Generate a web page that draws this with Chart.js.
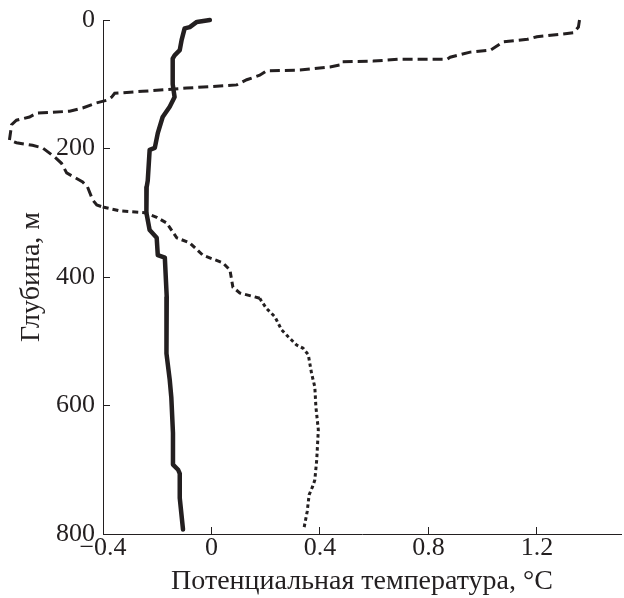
<!DOCTYPE html>
<html>
<head>
<meta charset="utf-8">
<script src="https://cdn.jsdelivr.net/npm/chart.js@4"></script>
<style>
html,body{margin:0;padding:0;background:#fff;}
#wrap{width:624px;height:598px;position:relative;}
</style>
</head>
<body>
<div id="wrap"><canvas id="c" width="624" height="598"></canvas></div>
<script>
// Solid profile: depth (m) and potential temperature (°C)
const solidDepth = [0,3,11,13,31,47,55,60,100,120,135,151,176,199,202,250,260,300,327,339,366,370,431,519,560,588,643,692,700,706,744,793];
const solidTemp  = [-0.006,-0.054,-0.08,-0.099,-0.11,-0.117,-0.136,-0.143,-0.143,-0.136,-0.154,-0.18,-0.198,-0.209,-0.228,-0.235,-0.239,-0.24,-0.228,-0.202,-0.198,-0.172,-0.165,-0.166,-0.154,-0.148,-0.142,-0.142,-0.123,-0.117,-0.117,-0.105];

// Dashed profile
const dashDepth = [0,11,20,26,30,34,47,50,58,61,61,64,65,70,73,78,79,86,93,101,106,111,114,120,125,129,137,142,145,151,156,163,187,191,195,199,213,223,238,252,260,280,288,291,297,300,307,316,339,347,366,378,389,416,425,433,438,449,462,482,493,506,511,521,550,571,602,638,685,716,726,739,765,791];
const dashTemp  = [1.357,1.353,1.334,1.20,1.165,1.076,1.028,0.954,0.88,0.869,0.695,0.596,0.481,0.474,0.437,0.326,0.204,0.178,0.13,0.093,-0.091,-0.254,-0.357,-0.368,-0.387,-0.424,-0.475,-0.523,-0.645,-0.671,-0.719,-0.737,-0.745,-0.719,-0.66,-0.623,-0.579,-0.553,-0.534,-0.475,-0.457,-0.438,-0.423,-0.401,-0.339,-0.246,-0.202,-0.165,-0.128,-0.08,-0.032,0.042,0.068,0.079,0.105,0.178,0.185,0.203,0.234,0.258,0.283,0.314,0.338,0.357,0.369,0.381,0.385,0.394,0.388,0.381,0.373,0.36,0.353,0.341];

const xTicks = [-0.4, 0, 0.4, 0.8, 1.2];
const yTicks = [0, 200, 400, 600, 800];
const xTitle = 'Потенциальная температура, °C';
const yTitle = 'Глубина, м';

const ink = '#231f20';
const toPts = (xs, ys) => xs.map((v, i) => ({x: v, y: ys[i]}));
const fmt = v => (v < 0 ? '\u2212' + Math.abs(v) : String(v));

new Chart(document.getElementById('c'), {
  type: 'scatter',
  data: {
    datasets: [
      {
        data: toPts(dashTemp, dashDepth),
        showLine: true,
        borderColor: ink,
        borderWidth: 3,
        pointRadius: 0,
        clip: false,
        borderCapStyle: 'butt',
        segment: {
          borderDash: ctx => {
            const d = ctx.p0.parsed.y;
            if (d < 290) return [10, 5];
            if (d < 430) return [6, 4];
            return [3.5, 3];
          }
        }
      },
      {
        data: toPts(solidTemp, solidDepth),
        showLine: true,
        borderColor: ink,
        borderWidth: 4.5,
        pointRadius: 0,
        clip: false,
        borderCapStyle: 'round',
        borderJoinStyle: 'round'
      }
    ]
  },
  options: {
    responsive: false,
    animation: false,
    layout: {padding: {top: 20, right: 3, bottom: 0, left: 0}},
    plugins: {legend: {display: false}, tooltip: {enabled: false}},
    scales: {
      x: {
        type: 'linear',
        min: -0.4,
        max: 1.51,
        afterBuildTicks: s => { s.ticks = xTicks.map(v => ({value: v})); },
        afterFit: s => { s.height = 64; s.paddingLeft = 0; s.paddingRight = 0; },
        grid: {display: true, drawOnChartArea: false, tickLength: -7, color: ink, lineWidth: 1},
        border: {display: true, color: ink, width: 1},
        ticks: {
          color: ink,
          padding: 6,
          maxRotation: 0,
          autoSkip: false,
          font: {family: 'Liberation Serif', size: 26},
          callback: v => fmt(v)
        },
        title: {
          display: true,
          text: xTitle,
          color: ink,
          font: {family: 'Liberation Serif', size: 28},
          padding: {top: 0, bottom: 0}
        }
      },
      y: {
        type: 'linear',
        reverse: true,
        min: 0,
        max: 800,
        afterBuildTicks: s => { s.ticks = yTicks.map(v => ({value: v})); },
        afterFit: s => { s.width = 103; s.paddingTop = 0; s.paddingBottom = 0; },
        grid: {display: true, drawOnChartArea: false, tickLength: -7, color: ink, lineWidth: 1},
        border: {display: true, color: ink, width: 1},
        ticks: {
          color: ink,
          padding: 15,
          autoSkip: false,
          font: {family: 'Liberation Serif', size: 26},
          callback: v => fmt(v)
        },
        title: {
          display: true,
          text: yTitle,
          color: ink,
          font: {family: 'Liberation Serif', size: 28},
          padding: {top: 15, bottom: 0}
        }
      }
    }
  }
});
</script>
</body>
</html>
